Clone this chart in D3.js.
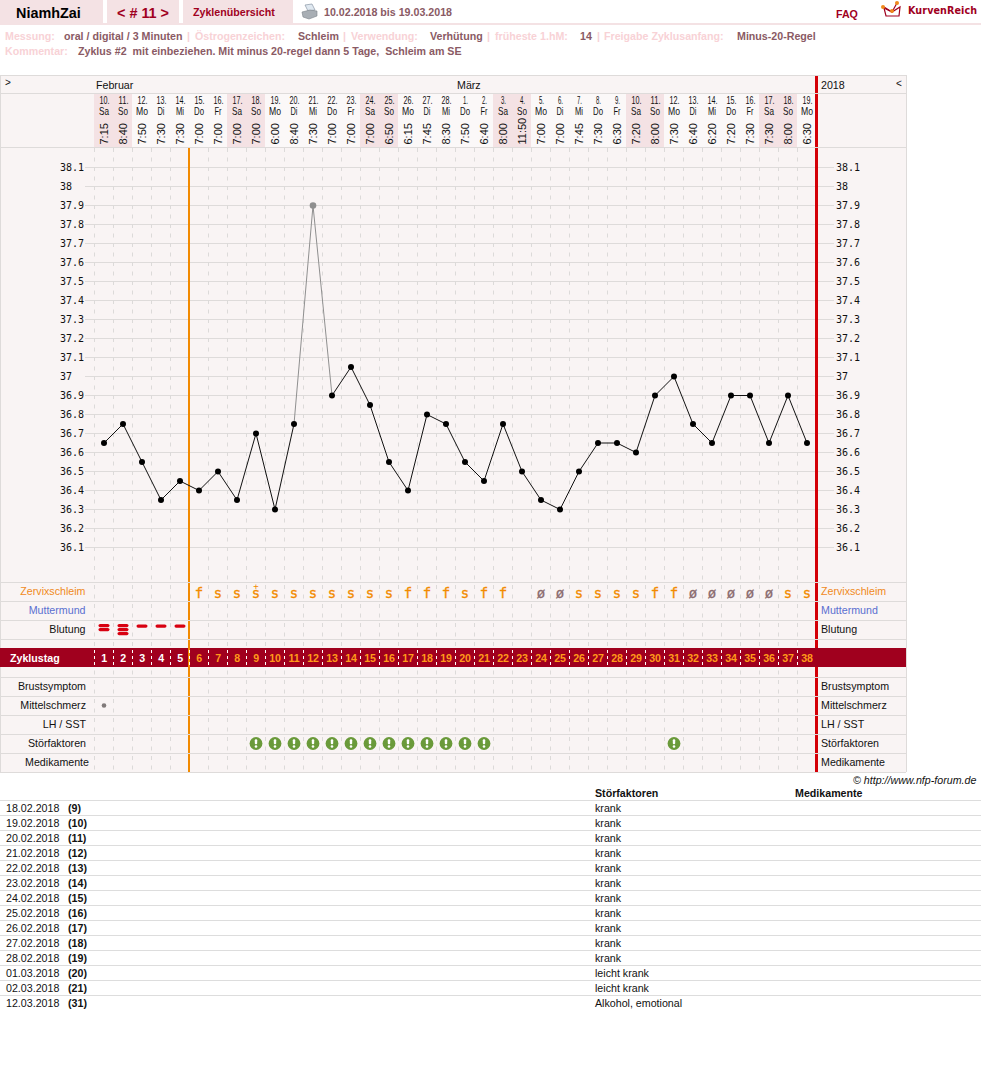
<!DOCTYPE html>
<html><head><meta charset="utf-8">
<script src="https://cdnjs.cloudflare.com/ajax/libs/d3/7.8.5/d3.min.js"></script>
<style>html,body{margin:0;padding:0;background:#fff}svg{display:block}text{font-family:"Liberation Sans",Arial,sans-serif}</style>
</head><body><div id="c"></div>
<script>
const dates=["10.","11.","12.","13.","14.","15.","16.","17.","18.","19.","20.","21.","22.","23.","24.","25.","26.","27.","28.","1.","2.","3.","4.","5.","6.","7.","8.","9.","10.","11.","12.","13.","14.","15.","16.","17.","18.","19."];
const weekdays=["Sa","So","Mo","Di","Mi","Do","Fr","Sa","So","Mo","Di","Mi","Do","Fr","Sa","So","Mo","Di","Mi","Do","Fr","Sa","So","Mo","Di","Mi","Do","Fr","Sa","So","Mo","Di","Mi","Do","Fr","Sa","So","Mo"];
const times=["7:15","8:40","7:50","7:30","7:30","7:00","7:00","7:00","7:00","6:00","8:40","7:30","7:00","7:00","7:00","6:50","6:15","7:45","8:30","7:50","6:40","8:00","11:50","7:00","7:00","7:45","7:30","6:30","7:20","8:00","7:30","6:40","6:20","7:20","7:30","7:30","8:00","6:30"];
const temps=[36.65,36.75,36.55,36.35,36.45,36.4,36.5,36.35,36.7,36.3,36.75,37.9,36.9,37.05,36.85,36.55,36.4,36.8,36.75,36.55,36.45,36.75,36.5,36.35,36.3,36.5,36.65,36.65,36.6,36.9,37.0,36.75,36.65,36.9,36.9,36.65,36.9,36.65];
const excludedDays=[12];
const mucus=["","","","","","f","s","s","s","s","s","s","s","s","s","s","f","f","f","s","f","f","","ø","ø","s","s","s","s","f","f","ø","ø","ø","ø","ø","s","s"];
const mucusPlusDays=[9];
const bleeding=[2,3,1,1,1];
const painDays=[1];
const disturbDays=[9,10,11,12,13,14,15,16,17,18,19,20,21,31];
const tempTicks=["38.1","38","37.9","37.8","37.7","37.6","37.5","37.4","37.3","37.2","37.1","37","36.9","36.8","36.7","36.6","36.5","36.4","36.3","36.2","36.1"];
const upperRows=[["Zervixschleim","#f08a1c"],["Muttermund","#5a6fd0"],["Blutung","#111"]];
const lowerRows=["Brustsymptom","Mittelschmerz","LH / SST","Störfaktoren","Medikamente"];
const noteDates=["18.02.2018","19.02.2018","20.02.2018","21.02.2018","22.02.2018","23.02.2018","24.02.2018","25.02.2018","26.02.2018","27.02.2018","28.02.2018","01.03.2018","02.03.2018","12.03.2018"];
const noteDays=[9,10,11,12,13,14,15,16,17,18,19,20,21,31];
const noteTexts=["krank","krank","krank","krank","krank","krank","krank","krank","krank","krank","krank","leicht krank","leicht krank","Alkohol, emotional"];

const W=981,H=1092,FS=10.67;
const svg=d3.select("#c").append("svg").attr("width",W).attr("height",H);
const n=dates.length;
const x=d3.scaleLinear().domain([1,38]).range([104,807]);
const y=d3.scaleLinear().domain([36.1,38.1]).range([547.5,167.5]);
const edge=d=>Math.floor(x(d)-9.5);
const mono='"DejaVu Sans Mono",monospace';
const grid="#dedbda",bg="#f9f4f4",pink="#f4e2e4",dark="#8a5a64",light="#f8d2d6",crimson="#a0001e";
function T(g,s,px,py,o={}){const t=g.append("text").attr("x",px).attr("y",py).attr("font-size",o.size||FS).attr("fill",o.fill||"#111").text(s);
 if(o.anchor)t.attr("text-anchor",o.anchor);if(o.weight)t.attr("font-weight",o.weight);if(o.family)t.style("font-family",o.family);if(o.style)t.attr("font-style",o.style);return t;}
function R(g,a,b,w,h,f){return g.append("rect").attr("x",a).attr("y",b).attr("width",w).attr("height",h).attr("fill",f);}
function L(g,a,b,c,d,s,wd=1,dash){const l=g.append("line").attr("x1",a).attr("y1",b).attr("x2",c).attr("y2",d).attr("stroke",s).attr("stroke-width",wd);if(dash)l.attr("stroke-dasharray",dash);return l;}

// top bar
const topBar=svg.append("g");
R(topBar,0,0,103,23,pink);R(topBar,107,0,72,23,pink);R(topBar,183,0,110,23,pink);R(topBar,0,23,W,2,pink);
T(topBar,"NiamhZai",16,18,{size:14.4,weight:"bold",fill:"#000"});
T(topBar,"< # 11 >",117,18,{size:14.4,weight:"bold",fill:crimson});
T(topBar,"Zyklenübersicht",193,16,{weight:"bold",fill:crimson});
T(topBar,"10.02.2018 bis 19.03.2018",324,16,{weight:"bold",fill:dark});
T(topBar,"FAQ",836,18,{weight:"bold",fill:crimson});
T(topBar,"KurvenReich",908,14,{size:9.6,weight:"bold",fill:crimson,family:'"DejaVu Sans",sans-serif'}).attr("letter-spacing",.1);
const pr=topBar.append("g");
pr.append("path").attr("d","M305 5L312 4L315 10L308 11Z").attr("fill","#dfe8f0").attr("stroke","#8a97a5").attr("stroke-width",.7);
pr.append("path").attr("d","M302 12L310 10L317 11L317 16L309 19L303 17Z").attr("fill","#a8aeb4").attr("stroke","#7c838a").attr("stroke-width",.6);
const lg=topBar.append("g");
lg.append("path").attr("d","M884 8L886 16L899 16L900 7L892 12Z").attr("fill","#fff").attr("stroke",crimson).attr("stroke-width",1.2);
lg.append("path").attr("d","M884 7L892 12L897 3").attr("fill","none").attr("stroke",crimson).attr("stroke-width",1.2);
[[883,7],[892,11],[897,3]].forEach(q=>lg.append("circle").attr("cx",q[0]).attr("cy",q[1]).attr("r",2).attr("fill","#f08a1c"));

// meta
const meta=[["Messung:",5,light],["oral / digital / 3 Minuten",64,dark],["|",187,light],["Östrogenzeichen:",195,light],["Schleim",298,dark],["|",343,light],["Verwendung:",351,light],["Verhütung",430,dark],["|",487,light],["früheste 1.hM:",495,light],["14",580,dark],["|",597,light],["Freigabe Zyklusanfang:",604,light],["Minus-20-Regel",737,dark]];
meta.forEach(m=>T(svg,m[0],m[1],40,{weight:"bold",fill:m[2]}));
T(svg,"Kommentar:",5,55,{weight:"bold",fill:light});
T(svg,"Zyklus #2  mit einbeziehen. Mit minus 20-regel dann 5 Tage,  Schleim am SE",78,55,{weight:"bold",fill:dark}).style("white-space","pre");

// panel
const p=svg.append("g");
R(p,0,75,906,697,bg);
d3.range(n).forEach(i=>{const wk=weekdays[i]==="Sa"||weekdays[i]==="So";R(p,edge(i+1),93,19,54,wk?pink:"#fbf8f8");});
tempTicks.forEach(t=>{L(p,85,y(+t),834,y(+t),grid);});
d3.range(n).forEach(i=>{L(p,edge(i+1)+.5,148,edge(i+1)+.5,772,"#dcdad9",1,"4,5.5");});
// header
T(p,">",5,86,{size:10});T(p,"Februar",96,89);T(p,"März",457,89);T(p,"2018",821,89);T(p,"<",896,87,{size:10});
const dayW={Mo:12,Sa:10,So:10,Do:10,Di:7,Mi:8,Fr:7};
d3.range(n).forEach(i=>{
 T(p,dates[i],x(i+1)+.5,104,{size:11.5,anchor:"middle"}).attr("textLength",dates[i].length>2?10:5).attr("lengthAdjust","spacingAndGlyphs");
 T(p,weekdays[i],x(i+1),115,{size:11.5,anchor:"middle"}).attr("textLength",dayW[weekdays[i]]).attr("lengthAdjust","spacingAndGlyphs");
 p.append("text").attr("transform",`translate(${x(i+1)+4},144.5) rotate(-90)`).attr("font-size",11).attr("fill","#111").text(times[i]);
});
tempTicks.forEach(t=>{
 T(p,t,60,y(+t)+3.5,{size:10,family:mono});
 T(p,t,836,y(+t)+3.5,{size:10,family:mono});
});
// cycle lines first, rows over them
R(p,188,147,2,625,"#f28a00");
R(p,815,75,3,697,"#d40008");
[75,93,147,582,601,620,639,677,696,715,734,753,772].forEach(v=>L(p,0,v+.5,906,v+.5,grid));
L(p,.5,75,.5,772,grid);L(p,906.5,75,906.5,772,grid);
const rowY=v=>v+13;
upperRows.forEach((r,i)=>{
 const yy=[582,601,620][i];
 T(p,r[0],85.5,rowY(yy),{fill:r[1],anchor:"end"});
 T(p,r[0],821,rowY(yy),{fill:r[1]});
});
lowerRows.forEach((r,i)=>{
 const yy=677+19*i;
 T(p,r,i==4?89:86,rowY(yy),{anchor:"end"});
 T(p,r,821,rowY(yy),{});
});
// band
R(p,0,648,906,19,crimson);
R(p,188,648,2,19,"#f28a00");
d3.range(n).forEach(i=>{
 L(p,edge(i+1)+.5,650,edge(i+1)+.5,665,"#fff",1,"3,3");
 T(p,String(i+1),x(i+1),662,{weight:"bold",fill:i<5?"#fff":"#ff9a1a",anchor:"middle"}).attr("letter-spacing",-.2);
});
T(p,"Zyklustag",10,662,{weight:"bold",fill:"#fff"});
// temperature line
const pts=temps.map((v,i)=>({day:i+1,v}));
d3.pairs(pts).forEach(([a,b])=>{
 const ex=excludedDays.includes(a.day)||excludedDays.includes(b.day);
 p.append("path").attr("d",d3.line().x(d=>x(d.day)).y(d=>y(d.v))([a,b])).attr("fill","none").attr("stroke",ex?"#8f8f8f":"#111").attr("stroke-width",1);
});
p.selectAll("circle.t").data(pts).enter().append("circle").attr("class","t").attr("cx",d=>x(d.day)).attr("cy",d=>y(d.v)).attr("r",d=>excludedDays.includes(d.day)?3.3:3).attr("fill",d=>excludedDays.includes(d.day)?"#8f8f8f":"#000");
mucus.forEach((m,i)=>{if(!m)return;const c=m==="ø"?"#8a6a6e":"#f28a00";T(p,m,x(i+1),597.5,{size:14,fill:c,anchor:"middle",family:mono}).attr("stroke",c).attr("stroke-width",.3);});
mucusPlusDays.forEach(d=>T(p,"+",x(d),589,{size:9,fill:"#f28a00",anchor:"middle",family:mono}));
bleeding.forEach((c,i)=>{const t0=c===1?624.5:624;d3.range(c).forEach(k=>{p.append("rect").attr("x",x(i+1)-5.5).attr("y",t0+k*4).attr("width",11).attr("height",3.2).attr("rx",1.6).attr("fill","#d80010");});});
painDays.forEach(d=>p.append("circle").attr("cx",x(d)).attr("cy",705.5).attr("r",2.3).attr("fill","#807a7a"));
disturbDays.forEach(d=>{const g=p.append("g").attr("transform",`translate(${x(d)},743.5)`);
 g.append("circle").attr("r",6.4).attr("fill","#6a9a3a");
 g.append("rect").attr("x",-1.2).attr("y",-4.2).attr("width",2.4).attr("height",5).attr("rx",1).attr("fill","#fff");
 g.append("circle").attr("cy",3).attr("r",1.3).attr("fill","#fff");});
// footer table
T(svg,"© http://www.nfp-forum.de",853,784,{style:"italic"});
T(svg,"Störfaktoren",595,797,{weight:"bold"});
T(svg,"Medikamente",795,797,{weight:"bold"});
L(svg,0,800.5,W,800.5,"#ddd");
noteDates.forEach((d,i)=>{const yy=812+15*i;
 T(svg,d,6,yy);
 T(svg,"("+noteDays[i]+")",68,yy,{weight:"bold"});
 T(svg,noteTexts[i],595,yy);
 if(i<noteDates.length-1)L(svg,0,yy+3.5,W,yy+3.5,"#ddd");
});
</script></body></html>
